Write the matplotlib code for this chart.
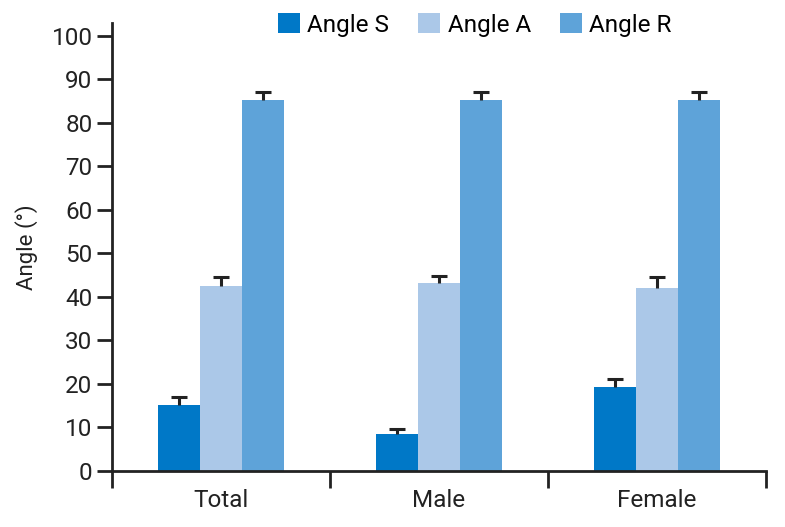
import matplotlib
matplotlib.use("Agg")
import matplotlib.pyplot as plt
import numpy as np
from matplotlib import font_manager

names = {f.name for f in font_manager.fontManager.ttflist}
fam = ['Liberation Sans Narrow', 'DejaVu Sans'] if 'Liberation Sans Narrow' in names else ['Roboto', 'DejaVu Sans']
plt.rcParams['font.family'] = fam

categories = ["Total", "Male", "Female"]
series = ["Angle S", "Angle A", "Angle R"]
angle_s = [15.2, 8.6, 19.4]
angle_a = [42.6, 43.3, 42.0]
angle_r = [85.2, 85.2, 85.2]
err_s = [1.9, 1.0, 1.8]
err_a = [2.0, 1.4, 2.6]
err_r = [1.8, 1.8, 1.8]
colors = ["#0078C7", "#ABC8E8", "#5EA3D9"]

values = [angle_s, angle_a, angle_r]
errs = [err_s, err_a, err_r]

fig = plt.figure(figsize=(7.85, 5.27), dpi=100)
ax = fig.add_axes([0.1427, 0.1063, 0.8331, 0.8507])

x = np.arange(len(categories))
w = 0.193
for i, (vals, e, c, name) in enumerate(zip(values, errs, colors, series)):
    pos = x + (i - 1) * w
    ax.bar(pos, vals, width=w, color=c, label=name, zorder=2)
    eb = ax.errorbar(pos, vals, yerr=[np.zeros(len(vals)), e], fmt='none',
                     ecolor='#222222', elinewidth=2.2, capsize=6, capthick=2.2, zorder=3)
    caps = eb[1]
    if len(caps) >= 2:
        caps[0].set_visible(False)

ax.set_xlim(-0.5, 2.5)
ax.set_ylim(0, 103)
ax.set_yticks(np.arange(0, 101, 10))
ax.set_xticks(x)
ax.set_xticklabels(categories)
ax.set_xticks([-0.5, 0.5, 1.5, 2.5], minor=True)
ax.tick_params(axis='x', which='major', length=0, labelsize=17.5, pad=13, colors='#222222')
ax.tick_params(axis='x', which='minor', length=12, width=2, direction='out', color='#222222')
ax.tick_params(axis='y', length=11, width=2, direction='out', labelsize=17.5, pad=3, colors='#222222')
for s in ['top', 'right']:
    ax.spines[s].set_visible(False)
for s in ['left', 'bottom']:
    ax.spines[s].set_linewidth(2)
    ax.spines[s].set_color('#222222')

ax.set_ylabel("Angle (°)", fontsize=16, color='#222222', labelpad=10)

ax.legend(loc='center', bbox_to_anchor=(0.555, 0.995), ncol=3, frameon=False,
          fontsize=17.5, handlelength=0.9, handleheight=0.9, handletextpad=0.3,
          columnspacing=1.2, borderpad=0, borderaxespad=0)

fig.savefig("out.png", dpi=100)
